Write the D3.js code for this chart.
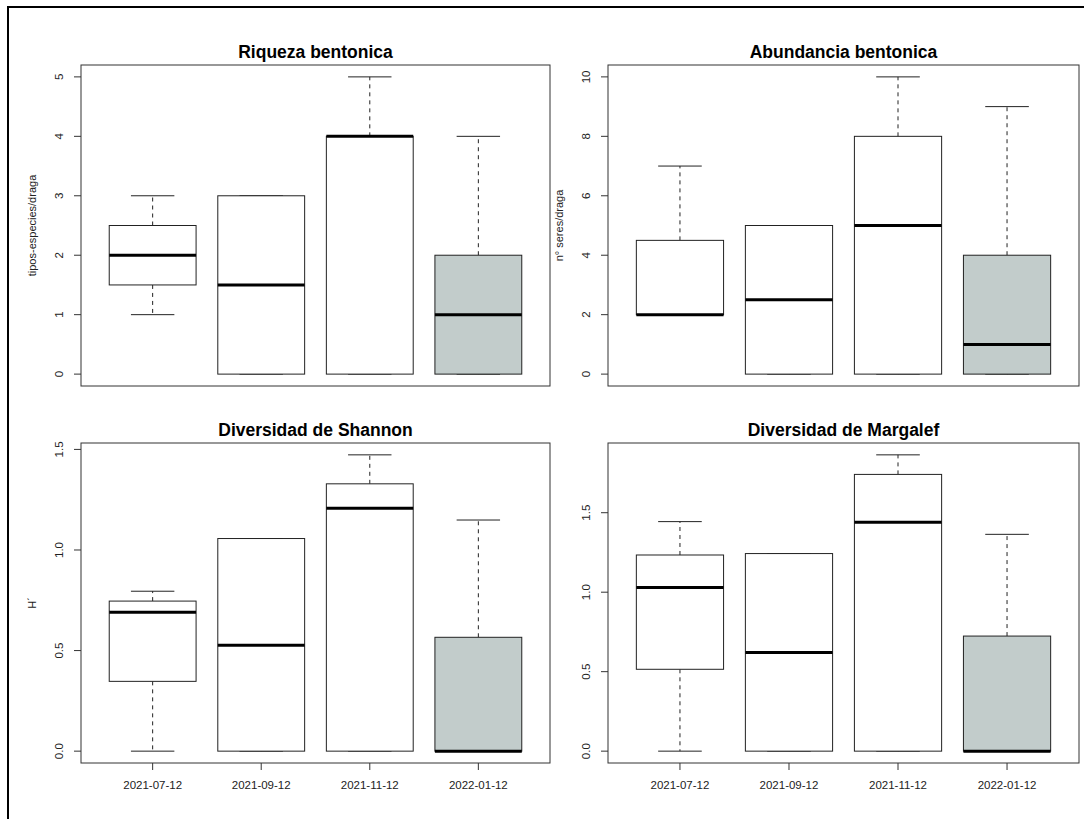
<!DOCTYPE html>
<html>
<head>
<meta charset="utf-8">
<script src="https://cdn.jsdelivr.net/npm/d3@7"></script>
<style>
  html, body { margin: 0; padding: 0; background: #fff; }
  svg { display: block; font-family: "Liberation Sans", Arial, sans-serif; }
</style>
</head>
<body>
<svg id="chart" width="1084" height="819"></svg>
<script>
// ---- data ----
const categories = ["2021-07-12", "2021-09-12", "2021-11-12", "2022-01-12"];
// each entry: [lower whisker, Q1, median, Q3, upper whisker]
const riquezaStats = [[1, 1.5, 2, 2.5, 3], [0, 0, 1.5, 3, 3], [0, 0, 4, 4, 5], [0, 0, 1, 2, 4]];
const abundanciaStats = [[2, 2, 2, 4.5, 7], [0, 0, 2.5, 5, 5], [0, 0, 5, 8, 10], [0, 0, 1, 4, 9]];
const shannonStats = [[0, 0.347, 0.691, 0.746, 0.795], [0, 0, 0.526, 1.057, 1.057], [0, 0, 1.207, 1.329, 1.473], [0, 0, 0, 0.566, 1.149]];
const margalefStats = [[0, 0.515, 1.03, 1.234, 1.444], [0, 0, 0.621, 1.243, 1.243], [0, 0, 1.44, 1.741, 1.864], [0, 0, 0, 0.724, 1.364]];
const riquezaTicks = [0, 1, 2, 3, 4, 5];
const abundanciaTicks = [0, 2, 4, 6, 8, 10];
const shannonTicks = [0, 0.5, 1.0, 1.5];
const margalefTicks = [0, 0.5, 1.0, 1.5];
const titles = ["Riqueza bentonica", "Abundancia bentonica", "Diversidad de Shannon", "Diversidad de Margalef"];
const yLabels = ["tipos-especies/draga", "n\u00b0 seres/draga", "H\u00b4", ""];
const boxFills = ["#ffffff", "#ffffff", "#ffffff", "#c2cccb"];

const svg = d3.select("#chart");

// outer frame
svg.append("rect").attr("x", 8).attr("y", 7).attr("width", 1200).attr("height", 900)
  .attr("fill", "none").attr("stroke", "#000").attr("stroke-width", 2);

const panels = [
  { stats: riquezaStats, ticks: riquezaTicks, fmt: d3.format("d"), x0: 81, x1: 550, y0: 65, y1: 386, title: titles[0], ylab: yLabels[0], xlabels: false, titleY: 58 },
  { stats: abundanciaStats, ticks: abundanciaTicks, fmt: d3.format("d"), x0: 608, x1: 1079, y0: 65, y1: 386, title: titles[1], ylab: yLabels[1], xlabels: false, titleY: 58 },
  { stats: shannonStats, ticks: shannonTicks, fmt: d3.format(".1f"), x0: 81, x1: 550, y0: 443, y1: 763, title: titles[2], ylab: yLabels[2], xlabels: true, titleY: 436 },
  { stats: margalefStats, ticks: margalefTicks, fmt: d3.format(".1f"), x0: 608, x1: 1079, y0: 443, y1: 763, title: titles[3], ylab: yLabels[3], xlabels: true, titleY: 436 }
];

panels.forEach(p => {
  const g = svg.append("g");
  const lo = d3.min(p.stats, s => s[0]);
  const hi = d3.max(p.stats, s => s[4]);
  const pad = (hi - lo) * 0.04;
  const y = d3.scaleLinear().domain([lo - pad, hi + pad]).range([p.y1, p.y0]);
  const x = d3.scaleLinear().domain([0.5 - 0.16, 4.5 + 0.16]).range([p.x0, p.x1]);
  const bw = (x(1) - x(0)) * 0.8;
  const sw = bw * 0.5;

  // boxes
  p.stats.forEach((s, i) => {
    const cx = x(i + 1);
    const bg = g.append("g");
    // whiskers (dashed)
    bg.append("line").attr("x1", cx).attr("x2", cx).attr("y1", y(s[3])).attr("y2", y(s[4]))
      .attr("stroke", "#222").attr("stroke-dasharray", "4,4");
    bg.append("line").attr("x1", cx).attr("x2", cx).attr("y1", y(s[1])).attr("y2", y(s[0]))
      .attr("stroke", "#222").attr("stroke-dasharray", "4,4");
    // staples
    [s[0], s[4]].forEach(v => {
      bg.append("line").attr("x1", cx - sw / 2).attr("x2", cx + sw / 2).attr("y1", y(v)).attr("y2", y(v))
        .attr("stroke", "#222").attr("stroke-width", 1);
    });
    // box
    bg.append("rect").attr("x", cx - bw / 2).attr("y", y(s[3])).attr("width", bw)
      .attr("height", Math.max(0, y(s[1]) - y(s[3])))
      .attr("fill", boxFills[i]).attr("stroke", "#222").attr("stroke-width", 1);
    // median
    bg.append("line").attr("x1", cx - bw / 2).attr("x2", cx + bw / 2).attr("y1", y(s[2])).attr("y2", y(s[2]))
      .attr("stroke", "#000").attr("stroke-width", 3);
  });

  // plot frame
  g.append("rect").attr("x", p.x0).attr("y", p.y0).attr("width", p.x1 - p.x0).attr("height", p.y1 - p.y0)
    .attr("fill", "none").attr("stroke", "#333").attr("stroke-width", 1);

  // y axis ticks and labels
  p.ticks.forEach(t => {
    g.append("line").attr("x1", p.x0 - 7).attr("x2", p.x0).attr("y1", y(t)).attr("y2", y(t))
      .attr("stroke", "#333");
    g.append("text").attr("transform", `translate(${p.x0 - 22},${y(t)}) rotate(-90)`)
      .attr("text-anchor", "middle").attr("dy", "0.35em")
      .attr("font-size", 11.5).attr("fill", "#222").text(p.fmt(t));
  });

  // x axis ticks and labels
  if (p.xlabels) {
    categories.forEach((c, i) => {
      const cx = x(i + 1);
      g.append("line").attr("x1", cx).attr("x2", cx).attr("y1", p.y1).attr("y2", p.y1 + 7).attr("stroke", "#333");
      g.append("text").attr("x", cx).attr("y", p.y1 + 26).attr("text-anchor", "middle")
        .attr("font-size", 11.5).attr("fill", "#222").text(c);
    });
  }

  // title
  g.append("text").attr("x", (p.x0 + p.x1) / 2).attr("y", p.titleY).attr("text-anchor", "middle")
    .attr("font-size", 17.5).attr("font-weight", "bold").attr("fill", "#000").text(p.title);

  // y label
  if (p.ylab) {
    g.append("text").attr("transform", `translate(${p.x0 - 49},${(p.y0 + p.y1) / 2}) rotate(-90)`)
      .attr("text-anchor", "middle").attr("dy", "0.35em")
      .attr("font-size", 11).attr("fill", "#222").text(p.ylab);
  }
});
</script>
</body>
</html>
